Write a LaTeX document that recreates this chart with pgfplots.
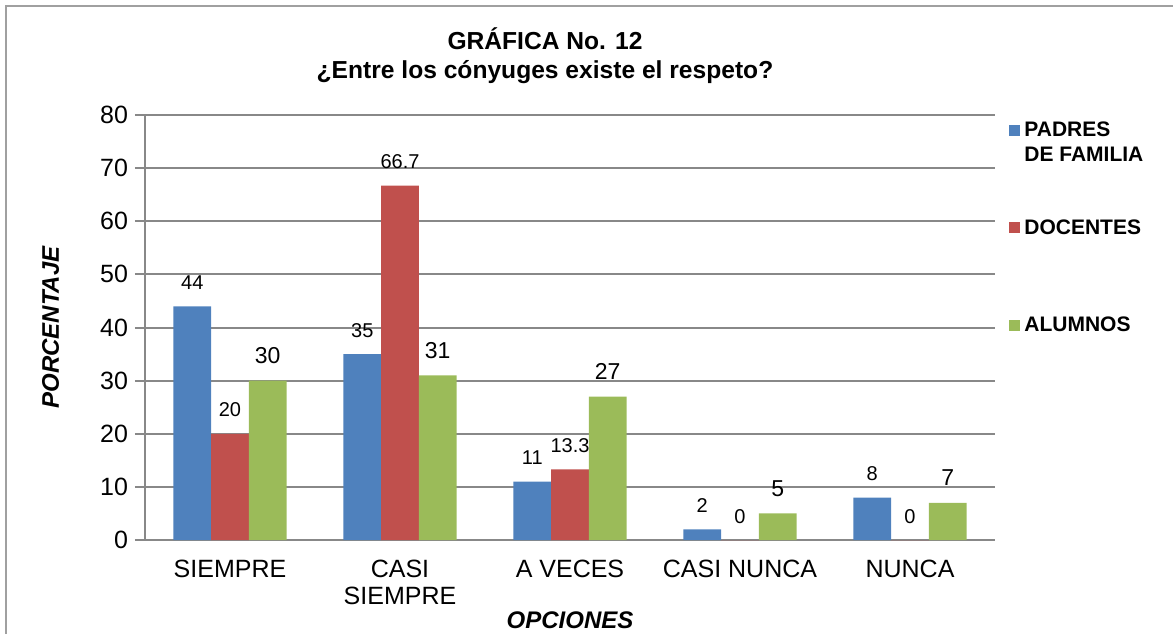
\documentclass[border=0pt]{standalone}
\usepackage{pgfplots}
\pgfplotsset{compat=1.18}
\usepackage{fontspec}
\setmainfont{Liberation Sans}
\definecolor{cblue}{HTML}{4F81BD}
\definecolor{cred}{HTML}{C0504D}
\definecolor{cgreen}{HTML}{9BBB59}
\definecolor{gridgray}{HTML}{888888}
\definecolor{framegray}{HTML}{A0A0A0}
\newcommand{\lgentry}[2]{\begin{tabular}[t]{@{}l@{}}#1\\#2\end{tabular}}
\begin{document}
\begin{tikzpicture}
\useasboundingbox (0,0) rectangle (586.5pt,317pt);
\draw[framegray, line width=0.8pt] (3pt,0) -- (3pt,314pt) -- (586.5pt,314pt);
\begin{axis}[
  at={(72.5pt,47pt)}, anchor=south west,
  scale only axis, width=425pt, height=212.5pt,
  ybar=0pt, bar width=18.85pt,
  legend image code/.code={\fill[#1] (0pt,0.5pt) rectangle (5.5pt,6pt);},
  xmin=-0.5, xmax=4.5, ymin=0, ymax=80,
  xtick={0,1,2,3,4},
  xticklabels={SIEMPRE, CASI\\SIEMPRE, A VECES, CASI NUNCA, NUNCA},
  xticklabel style={align=center, font=\fontsize{12.5}{13.5}\selectfont, anchor=north, yshift=-1.3pt},
  ytick={0,10,...,80},
  yticklabel style={font=\fontsize{12.5}{15}\selectfont},
  /pgf/number format/assume math mode=true,
  axis x line*=bottom, axis y line*=left,
  axis line style={-, gridgray, line width=1pt},
  ymajorgrids, major grid style={gridgray, line width=1pt},
  x tick style={draw=none},
  y tick style={gridgray, line width=1pt},
  tick align=outside, major tick length=5pt,
  title={GRÁFICA No. 12\\¿Entre los cónyuges existe el respeto?},
  title style={align=center, font=\bfseries\fontsize{12.3}{14.5}\selectfont, at={(axis description cs:0.4706,1)}, anchor=base, yshift=12.5pt},
  xlabel={OPCIONES},
  xlabel style={font=\bfseries\itshape\fontsize{12}{14}\selectfont, at={(axis description cs:0.5,-0.2071)}, anchor=base},
  ylabel={PORCENTAJE},
  ylabel style={font=\bfseries\itshape\fontsize{12}{14}\selectfont, at={(axis description cs:-0.1012,0.5)}, anchor=base},
  nodes near coords,
  every node near coord/.append style={font=\fontsize{10}{12}\selectfont, anchor=base, yshift=8.5pt, text=black},
  legend style={at={(axis description cs:1,1)}, anchor=north west, xshift=7pt,
    draw=none, fill=none, inner sep=0pt, row sep=34.5pt, column sep=0pt,
    font=\bfseries\fontsize{10.5}{12.5}\selectfont,
    cells={anchor=base west, inner xsep=2.5pt}},
]
\addplot[fill=cblue, draw=none] coordinates {(0,44) (1,35) (2,11) (3,2) (4,8)};
\addlegendentry{\lgentry{PADRES}{DE FAMILIA}}
\addplot[fill=cred, draw=none] coordinates {(0,20) (1,66.7) (2,13.3) (3,0) (4,0)};
\addlegendentry{\lgentry{DOCENTES}{\mbox{}}}
\addplot[fill=cgreen, draw=none, every node near coord/.append style={font=\fontsize{11.5}{13}\selectfont}] coordinates {(0,30) (1,31) (2,27) (3,5) (4,7)};
\addlegendentry{\lgentry{ALUMNOS}{\mbox{}}}
\end{axis}
\end{tikzpicture}
\end{document}
